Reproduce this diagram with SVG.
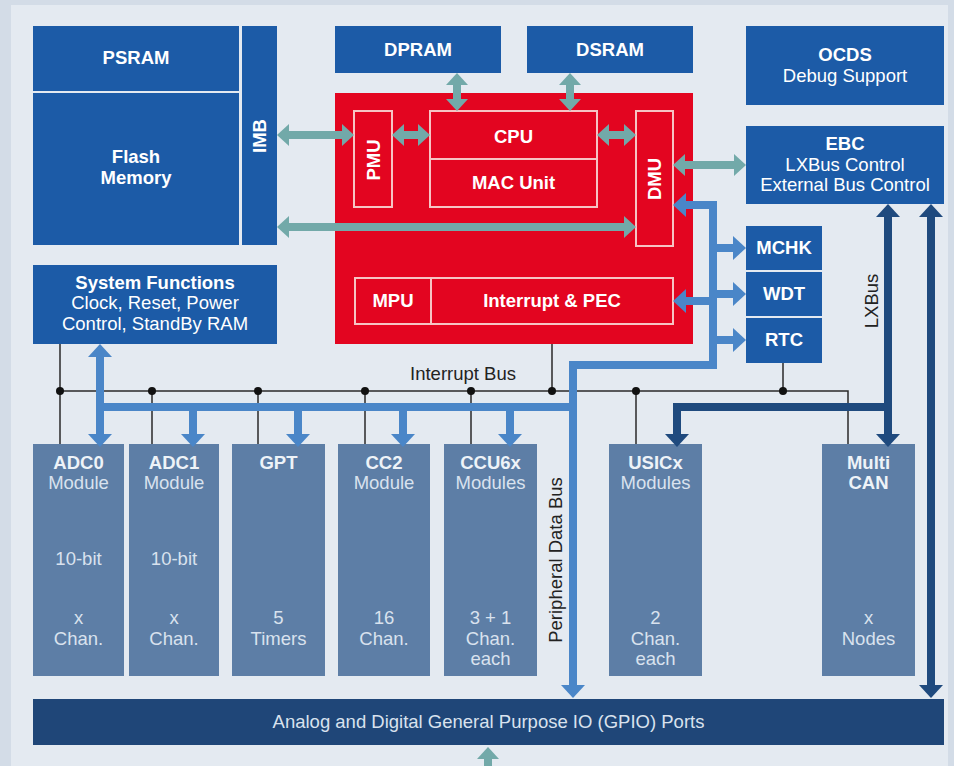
<svg xmlns="http://www.w3.org/2000/svg" width="954" height="766" viewBox="0 0 954 766">
<style>
  text { font-family: "Liberation Sans", Arial, sans-serif; font-size: 18.5px; text-anchor: middle; }
  .b { font-weight: bold; fill: #ffffff; }
  .w { fill: #ffffff; }
  .mt { font-weight: bold; fill: #eef3f8; }
  .ms { fill: #d9e2ee; }
  .dk { fill: #222222; }
  .blue { fill: #1c5ba7; }
  .red { fill: #e30520; }
  .redin { fill: none; stroke: #f6c4c4; stroke-width: 2; }
  .mod { fill: #5d7ea6; }
  .teal { stroke: #72a9a9; stroke-width: 8; fill: none; marker-start: url(#mt); marker-end: url(#mt); }
  .teal1 { stroke: #72a9a9; stroke-width: 8; fill: none; marker-end: url(#mt); }
  .pb { stroke: #4a86c8; stroke-width: 8; fill: none; }
  .pbe { stroke: #4a86c8; stroke-width: 8; fill: none; marker-end: url(#mb); }
  .pbb { stroke: #4a86c8; stroke-width: 8; fill: none; marker-start: url(#mb); marker-end: url(#mb); }
  .nv { stroke: #1f4a7e; stroke-width: 8; fill: none; }
  .nve { stroke: #1f4a7e; stroke-width: 8; fill: none; marker-end: url(#mn); }
  .nvb { stroke: #1f4a7e; stroke-width: 8; fill: none; marker-start: url(#mn); marker-end: url(#mn); }
  .ib { stroke: #2a2a2a; stroke-width: 1.5; fill: none; }
</style>
<defs>
  <marker id="mt" markerUnits="userSpaceOnUse" viewBox="0 0 12 22" refX="0" refY="11" markerWidth="12" markerHeight="22" orient="auto-start-reverse" overflow="visible">
    <path d="M0,0 L12,11 L0,22 Z" fill="#72a9a9"/>
  </marker>
  <marker id="mb" markerUnits="userSpaceOnUse" viewBox="0 0 13 24" refX="0" refY="12" markerWidth="13" markerHeight="24" orient="auto-start-reverse" overflow="visible">
    <path d="M0,0 L13,12 L0,24 Z" fill="#4a86c8"/>
  </marker>
  <marker id="mn" markerUnits="userSpaceOnUse" viewBox="0 0 13 24" refX="0" refY="12" markerWidth="13" markerHeight="24" orient="auto-start-reverse" overflow="visible">
    <path d="M0,0 L13,12 L0,24 Z" fill="#1f4a7e"/>
  </marker>
  <marker id="mw" markerUnits="userSpaceOnUse" viewBox="0 0 8 8" refX="0" refY="4" markerWidth="8" markerHeight="8" orient="auto" overflow="visible">
    <path d="M0,0 L8,4 L0,8 Z" fill="#ffffff"/>
  </marker>
</defs>

<rect x="0" y="0" width="954" height="766" fill="#d3dce7"/>
<rect x="11" y="5" width="937" height="761" fill="#e4eaf1"/>

<!-- interrupt bus (drawn beneath other buses) -->
<g id="interrupt-bus">
  <path class="ib" d="M60,391 H848 V444"/>
  <path class="ib" d="M60,344 V444 M152,391 V444 M258,391 V444 M365,391 V444 M471,391 V444 M636,391 V444 M783,363 V391 M552,391 V344"/>
  <path d="M552,344 V334" stroke="#ffffff" stroke-width="1.5" marker-end="url(#mw)"/>
  <g fill="#111111">
    <circle cx="60" cy="391" r="4"/><circle cx="152" cy="391" r="4"/><circle cx="258" cy="391" r="4"/>
    <circle cx="365" cy="391" r="4"/><circle cx="471" cy="391" r="4"/><circle cx="552" cy="391" r="4"/>
    <circle cx="636" cy="391" r="4"/><circle cx="783" cy="391" r="4"/>
  </g>
  <text class="dk" x="463" y="380">Interrupt Bus</text>
</g>

<!-- nodes -->
<g id="psram"><rect class="blue" x="33" y="26" width="206" height="65"/><text class="b" x="136" y="64">PSRAM</text></g>
<g id="flash"><rect class="blue" x="33" y="93" width="206" height="152"/><text class="b" x="136" y="163">Flash</text><text class="b" x="136" y="184">Memory</text></g>
<g id="imb"><rect class="blue" x="242" y="26" width="35" height="219"/><text class="b" transform="translate(259.5,136) rotate(-90)" dy="6.5">IMB</text></g>
<g id="dpram"><rect class="blue" x="335" y="26" width="166" height="47"/><text class="b" x="418" y="56">DPRAM</text></g>
<g id="dsram"><rect class="blue" x="527" y="26" width="166" height="47"/><text class="b" x="610" y="56">DSRAM</text></g>
<g id="ocds"><rect class="blue" x="746" y="26" width="198" height="79"/><text class="b" x="845" y="61">OCDS</text><text class="w" x="845" y="82">Debug Support</text></g>
<g id="ebc"><rect class="blue" x="746" y="126" width="198" height="78"/><text class="b" x="845" y="150">EBC</text><text class="w" x="845" y="171">LXBus Control</text><text class="w" x="845" y="191">External Bus Control</text></g>
<g id="mchk"><rect class="blue" x="746" y="226" width="76" height="44"/><text class="b" x="784" y="254">MCHK</text></g>
<g id="wdt"><rect class="blue" x="746" y="272" width="76" height="44"/><text class="b" x="784" y="300">WDT</text></g>
<g id="rtc"><rect class="blue" x="746" y="318" width="76" height="45"/><text class="b" x="784" y="346">RTC</text></g>
<g id="sysfunc"><rect class="blue" x="33" y="265" width="244" height="79"/><text class="b" x="155" y="289">System Functions</text><text class="w" x="155" y="309">Clock, Reset, Power</text><text class="w" x="155" y="330">Control, StandBy RAM</text></g>

<g id="cpu-core">
  <rect class="red" x="335" y="93" width="358" height="251"/>
</g>
<g id="pmu"><rect class="redin" x="354" y="111" width="38" height="96"/><text class="b" transform="translate(373,160) rotate(-90)" dy="6.5">PMU</text></g>
<g id="cpu"><rect class="redin" x="430" y="111" width="167" height="48"/><text class="b" x="513.5" y="143">CPU</text></g>
<g id="mac"><rect class="redin" x="430" y="159" width="167" height="48"/><text class="b" x="513.5" y="189">MAC Unit</text></g>
<g id="dmu"><rect class="redin" x="636" y="111" width="37" height="135"/><text class="b" transform="translate(654.5,179) rotate(-90)" dy="6.5">DMU</text></g>
<g id="mpu"><rect class="redin" x="355" y="278" width="76" height="46"/><text class="b" x="393" y="307">MPU</text></g>
<g id="intpec"><rect class="redin" x="431" y="278" width="242" height="46"/><text class="b" x="552" y="307">Interrupt &amp; PEC</text></g>

<g id="adc0"><rect class="mod" x="33" y="444" width="91" height="232"/><text class="mt" x="78.5" y="469">ADC0</text><text class="ms" x="78.5" y="489">Module</text><text class="ms" x="78.5" y="565">10-bit</text><text class="ms" x="78.5" y="624">x</text><text class="ms" x="78.5" y="645">Chan.</text></g>
<g id="adc1"><rect class="mod" x="129" y="444" width="90" height="232"/><text class="mt" x="174" y="469">ADC1</text><text class="ms" x="174" y="489">Module</text><text class="ms" x="174" y="565">10-bit</text><text class="ms" x="174" y="624">x</text><text class="ms" x="174" y="645">Chan.</text></g>
<g id="gpt"><rect class="mod" x="232" y="444" width="93" height="232"/><text class="mt" x="278.5" y="469">GPT</text><text class="ms" x="278.5" y="624">5</text><text class="ms" x="278.5" y="645">Timers</text></g>
<g id="cc2"><rect class="mod" x="338" y="444" width="92" height="232"/><text class="mt" x="384" y="469">CC2</text><text class="ms" x="384" y="489">Module</text><text class="ms" x="384" y="624">16</text><text class="ms" x="384" y="645">Chan.</text></g>
<g id="ccu6x"><rect class="mod" x="444" y="444" width="93" height="232"/><text class="mt" x="490.5" y="469">CCU6x</text><text class="ms" x="490.5" y="489">Modules</text><text class="ms" x="490.5" y="624">3 + 1</text><text class="ms" x="490.5" y="645">Chan.</text><text class="ms" x="490.5" y="665">each</text></g>
<g id="usicx"><rect class="mod" x="609" y="444" width="93" height="232"/><text class="mt" x="655.5" y="469">USICx</text><text class="ms" x="655.5" y="489">Modules</text><text class="ms" x="655.5" y="624">2</text><text class="ms" x="655.5" y="645">Chan.</text><text class="ms" x="655.5" y="665">each</text></g>
<g id="multican"><rect class="mod" x="822" y="444" width="93" height="232"/><text class="mt" x="868.5" y="469">Multi</text><text class="mt" x="868.5" y="489">CAN</text><text class="ms" x="868.5" y="624">x</text><text class="ms" x="868.5" y="645">Nodes</text></g>
<g id="gpio"><rect x="33" y="699" width="911" height="46" fill="#1f4678"/><text class="ms" x="488.5" y="728">Analog and Digital General Purpose IO (GPIO) Ports</text></g>

<!-- connectors -->
<g id="connectors">
  <path class="teal" d="M289,135 H342"/>
  <path class="teal" d="M289,227 H624"/>
  <path class="teal" d="M404,135 H418"/>
  <path class="teal" d="M609,135 H624"/>
  <path class="teal" d="M457,85 V99"/>
  <path class="teal" d="M570,85 V99"/>
  <path class="teal" d="M685,165 H734"/>
  <path class="teal1" d="M488,766 V759"/>

  <path class="pb" d="M100,407 H577"/>
  <path class="pbb" d="M573,685 V365 H713 V205 H686"/>
  <path class="pbb" d="M100,357 V434"/>
  <path class="pbe" d="M193,407 V434"/>
  <path class="pbe" d="M298,407 V434"/>
  <path class="pbe" d="M403,407 V434"/>
  <path class="pbe" d="M510,407 V434"/>
  <path class="pbe" d="M713,248 H733"/>
  <path class="pbe" d="M713,294 H733"/>
  <path class="pbe" d="M713,340 H733"/>
  <path class="pbe" d="M713,301 H686"/>

  <path class="nvb" d="M888,217 V434"/>
  <path class="nve" d="M892,407 H677 V434"/>
  <path class="nvb" d="M931,217 V685"/>

  <text class="dk" transform="translate(555,560) rotate(-90)" dy="6.5">Peripheral Data Bus</text>
  <text class="dk" transform="translate(871,301) rotate(-90)" dy="6.5">LXBus</text>
</g>
</svg>
